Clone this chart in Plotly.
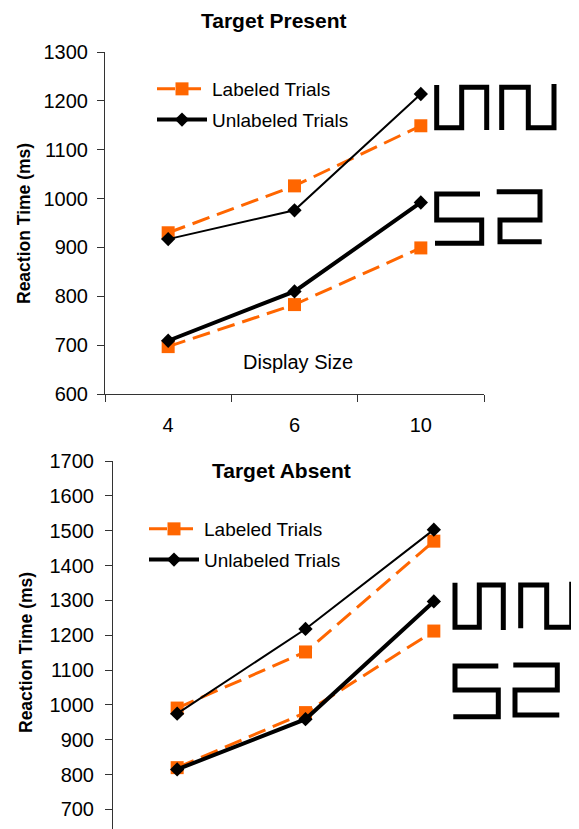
import plotly.graph_objects as go

W, H = 579, 829
OFF = 8  # page body margin: the figure is drawn 8px right/down of the window origin

display_sizes = ["4", "6", "10"]

# Target Present
present_labeled_thin = [930, 1026, 1149]
present_unlabeled_thin = [917, 976, 1214]
present_labeled_thick = [697, 783, 899]
present_unlabeled_thick = [709, 810, 992]

# Target Absent
absent_labeled_thin = [991, 1152, 1470]
absent_unlabeled_thin = [975, 1218, 1503]
absent_labeled_thick = [820, 978, 1212]
absent_unlabeled_thick = [815, 959, 1297]

present_yticks = [600, 700, 800, 900, 1000, 1100, 1200, 1300]
absent_yticks = [700, 800, 900, 1000, 1100, 1200, 1300, 1400, 1500, 1600, 1700]

ORANGE = "#FF6600"
FONT = "Arial, Liberation Sans, sans-serif"


def px(x):
    return (x - OFF) / W


def py(y):
    return 1 - (y - OFF) / H


fig = go.Figure()


def add_series(xa, ya, labeled_thin, unlabeled_thin, labeled_thick, unlabeled_thick, legend):
    fig.add_trace(go.Scatter(x=display_sizes, y=labeled_thin, xaxis=xa, yaxis=ya,
                             mode="lines+markers", showlegend=False,
                             line=dict(color=ORANGE, width=3, dash="18px,8px"),
                             marker=dict(symbol="square", size=13, color=ORANGE)))
    fig.add_trace(go.Scatter(x=display_sizes, y=unlabeled_thin, xaxis=xa, yaxis=ya,
                             mode="lines+markers", showlegend=False,
                             line=dict(color="black", width=2),
                             marker=dict(symbol="diamond", size=11, color="black")))
    fig.add_trace(go.Scatter(x=display_sizes, y=labeled_thick, xaxis=xa, yaxis=ya,
                             mode="lines+markers", name="Labeled Trials", legend=legend,
                             legendgroup=legend + "a",
                             line=dict(color=ORANGE, width=3, dash="18px,8px"),
                             marker=dict(symbol="square", size=13, color=ORANGE)))
    fig.add_trace(go.Scatter(x=display_sizes, y=unlabeled_thick, xaxis=xa, yaxis=ya,
                             mode="lines+markers", name="Unlabeled Trials", legend=legend,
                             legendgroup=legend + "b",
                             line=dict(color="black", width=4),
                             marker=dict(symbol="diamond", size=11, color="black")))


add_series("x", "y", present_labeled_thin, present_unlabeled_thin,
           present_labeled_thick, present_unlabeled_thick, "legend")
add_series("x2", "y2", absent_labeled_thin, absent_unlabeled_thin,
           absent_labeled_thick, absent_unlabeled_thick, "legend2")

axis_common = dict(showgrid=False, zeroline=False, showline=True, linecolor="#333333",
                   linewidth=1, ticks="outside", ticklen=7, tickcolor="#333333",
                   automargin=False,
                   tickfont=dict(family=FONT, size=20, color="black"))

fig.update_layout(
    width=W, height=H,
    margin=dict(l=0, r=0, t=0, b=0, pad=0, autoexpand=False),
    paper_bgcolor="white", plot_bgcolor="white",
    font=dict(family=FONT, color="black"),
    xaxis=dict(domain=[px(105), px(484)], anchor="y", type="category",
               range=[-0.5, 2.5], tickson="boundaries", ticklabelstandoff=13,
               **axis_common),
    yaxis=dict(domain=[py(394), py(52)], anchor="x", range=[600, 1300],
               tickvals=present_yticks, ticklabelstandoff=5, **axis_common),
    xaxis2=dict(domain=[px(113), px(498)], anchor="y2", type="category",
                range=[-0.5, 2.5], showline=False, showticklabels=False,
                showgrid=False, zeroline=False, ticks="", automargin=False),
    yaxis2=dict(domain=[0, py(461)], anchor="x2", range=[621, 1700],
                tickvals=absent_yticks, ticklabelstandoff=7, **axis_common),
    legend=dict(x=px(152), y=py(70), xanchor="left", yanchor="top",
                bgcolor="rgba(0,0,0,0)", font=dict(family=FONT, size=19, color="black"),
                tracegroupgap=3, itemwidth=50),
    legend2=dict(x=px(144), y=py(510), xanchor="left", yanchor="top",
                 bgcolor="rgba(0,0,0,0)", font=dict(family=FONT, size=19, color="black"),
                 tracegroupgap=3, itemwidth=50),
)

annotations = [
    dict(text="<b>Target Present</b>", x=px(274), y=py(20), font=dict(size=21)),
    dict(text="<b>Target Absent</b>", x=px(281), y=py(471), font=dict(size=21)),
    dict(text="Display Size", x=px(298), y=py(362), font=dict(size=20)),
    dict(text="<b>Reaction Time (ms)</b>", x=px(24), y=py(224), textangle=-90, font=dict(size=17.5)),
    dict(text="<b>Reaction Time (ms)</b>", x=px(26), y=py(653), textangle=-90, font=dict(size=17.5)),
]
for a in annotations:
    a.update(xref="paper", yref="paper", showarrow=False, xanchor="center", yanchor="middle")
    a["font"].update(family=FONT, color="black")
fig.update_layout(annotations=annotations)

# decorative glyph stimuli drawn beside the curves (pixel outlines)
glyph_paths = [
    [(436.7, 85), (436.7, 127.7), (461.7, 127.7), (461.7, 87.3), (486.7, 87.3), (486.7, 130)],
    [(501.7, 130), (501.7, 87.3), (528.3, 87.3), (528.3, 127.7), (554, 127.7), (554, 84)],
    [(480, 194), (436.7, 194), (436.7, 220), (481.7, 220), (481.7, 243.3), (435, 243.3)],
    [(496.7, 191.7), (540, 191.7), (540, 220), (500, 220), (500, 241.7), (541.7, 241.7)],
    [(455, 582.7), (455, 627.3), (479.3, 627.3), (479.3, 585), (503.3, 585), (503.3, 630)],
    [(520.7, 628.3), (520.7, 585), (546.7, 585), (546.7, 627.3), (571.7, 627.3), (571.7, 581.7)],
    [(498.3, 666), (455, 666), (455, 690), (498.3, 690), (498.3, 716.7), (453.3, 716.7)],
    [(513.3, 665), (557.3, 665), (557.3, 690), (515, 690), (515, 715), (559.3, 715)],
]
for pts in glyph_paths:
    d = "M " + " L ".join(f"{px(x):.5f},{py(y):.5f}" for x, y in pts)
    fig.add_shape(type="path", path=d, xref="paper", yref="paper",
                  line=dict(color="black", width=5), fillcolor="rgba(0,0,0,0)")

fig.write_html("out.html")
